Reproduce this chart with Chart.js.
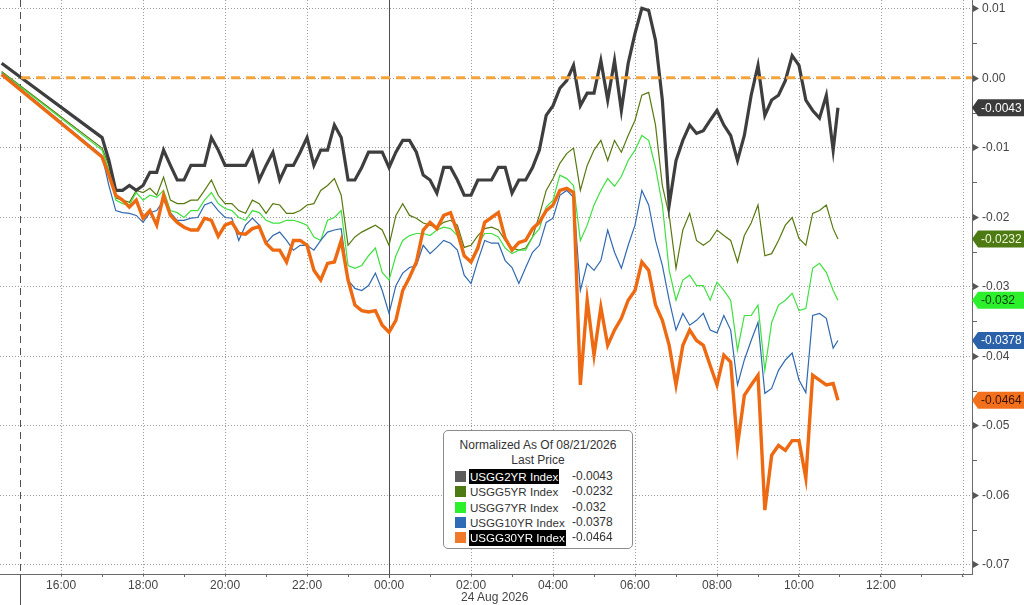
<!DOCTYPE html>
<html><head><meta charset="utf-8">
<script src="https://cdn.jsdelivr.net/npm/chart.js@4.4.1/dist/chart.umd.min.js"></script>
<style>
html,body{margin:0;padding:0;background:#fff;overflow:hidden}
#wrap{position:relative;width:1024px;height:605px;font-family:"Liberation Sans",Arial,sans-serif}
#c{position:absolute;left:0;top:0}
#legend{position:absolute;left:443px;top:430px;width:190px;height:119px;box-sizing:border-box;border:1px solid #8c8c8c;border-radius:5px;background:#fff;padding-top:7px;font-size:12px;color:#333;line-height:15.4px}
#legend .ttl{text-align:center}
#legend .row{position:relative;height:15.4px}
#legend .sq{position:absolute;left:11px;top:2px;width:11px;height:11px}
#legend .nm{position:absolute;left:26px;top:0;font-size:11.6px}
#legend .nm.hl{background:#000;color:#fff;padding:0 1px;margin-left:-1px}
#legend .val{position:absolute;left:128px;top:0}
#datelbl{position:absolute;left:461px;top:590px;font-size:12px;color:#444}
</style></head>
<body>
<div id="wrap">
<canvas id="c" width="1024" height="605"></canvas>
<div id="legend">
  <div class="ttl">Normalized As Of 08/21/2026</div>
  <div class="ttl">Last Price</div>
  <div id="rows"></div>
</div>
<div id="datelbl">24 Aug 2026</div>
</div>
<script>
// ---------------- DATA ----------------
const names = ['USGG2YR Index','USGG5YR Index','USGG7YR Index','USGG10YR Index','USGG30YR Index'];
const lastPrice = ['-0.0043','-0.0232','-0.032','-0.0378','-0.0464'];

const times = ["14:33",
"17:00","17:10","17:20","17:30","17:40","17:50",
"18:00","18:10","18:20","18:30","18:40","18:50",
"19:00","19:10","19:20","19:30","19:40","19:50",
"20:00","20:10","20:20","20:30","20:40","20:50",
"21:00","21:10","21:20","21:30","21:40","21:50",
"22:00","22:10","22:20","22:30","22:40","22:50",
"23:00","23:10","23:20","23:30","23:40","23:50",
"00:00","00:10","00:20","00:30","00:40","00:50",
"01:00","01:10","01:20","01:30","01:40","01:50",
"02:00","02:10","02:20","02:30","02:40","02:50",
"03:00","03:10","03:20","03:30","03:40","03:50",
"04:00","04:10","04:20","04:30","04:40","04:50",
"05:00","05:10","05:20","05:30","05:40","05:50",
"06:00","06:10","06:20","06:30","06:40","06:50",
"07:00","07:10","07:20","07:30","07:40","07:50",
"08:00","08:10","08:20","08:30","08:40","08:50",
"09:00","09:10","09:20","09:30","09:40","09:50",
"10:00","10:10","10:20","10:30","10:40","10:50",
"10:57"];

const usgg2 = [0.0021,
-0.0086,-0.0119,-0.0162,-0.0162,-0.0155,-0.0162,-0.0155,-0.0136,-0.0136,-0.0104,
-0.0126,-0.0147,-0.0147,-0.0126,-0.0126,-0.0126,-0.0086,-0.0104,-0.0126,-0.0126,
-0.0126,-0.0126,-0.0107,-0.0147,-0.0126,-0.0107,-0.0147,-0.0126,-0.0126,-0.0107,
-0.0086,-0.0126,-0.0104,-0.0104,-0.0068,-0.0086,-0.0147,-0.0147,-0.0129,-0.0107,
-0.0107,-0.0107,-0.0129,-0.0107,-0.0090,-0.0090,-0.0107,-0.0140,-0.0147,-0.0166,
-0.0129,-0.0129,-0.0147,-0.0169,-0.0169,-0.0147,-0.0147,-0.0147,-0.0129,-0.0129,
-0.0166,-0.0147,-0.0147,-0.0129,-0.0104,-0.0054,-0.0040,-0.0015,-0.0004,0.0018,
-0.0040,-0.0022,-0.0022,0.0025,-0.0032,0.0025,-0.0047,0.0021,0.0064,0.0100,
0.0097,0.0054,-0.0032,-0.0183,-0.0119,-0.0090,-0.0068,-0.0080,-0.0076,-0.0061,
-0.0047,-0.0068,-0.0083,-0.0119,-0.0083,-0.0025,0.0018,-0.0054,-0.0032,-0.0025,
-0.0004,0.0032,0.0018,-0.0032,-0.0047,-0.0058,-0.0025,-0.0104,-0.0043];

const usgg5 = [0.0009,
-0.0101,-0.0126,-0.0173,-0.0176,-0.0179,-0.0162,-0.0165,-0.0159,-0.0169,-0.0143,
-0.0176,-0.0181,-0.0181,-0.0176,-0.0176,-0.0162,-0.0147,-0.0169,-0.0181,-0.0181,
-0.0191,-0.0195,-0.0176,-0.0181,-0.0195,-0.0181,-0.0183,-0.0195,-0.0195,-0.0191,
-0.0183,-0.0181,-0.0162,-0.0155,-0.0145,-0.0169,-0.0241,-0.0229,-0.0222,-0.0217,
-0.0212,-0.0219,-0.0241,-0.0198,-0.0181,-0.0198,-0.0202,-0.0209,-0.0212,-0.0215,
-0.0208,-0.0205,-0.0212,-0.0244,-0.0241,-0.0227,-0.0217,-0.0215,-0.0219,-0.0234,
-0.0245,-0.0248,-0.0245,-0.0229,-0.0198,-0.0162,-0.0145,-0.0123,-0.0109,-0.0101,
-0.0162,-0.0126,-0.0104,-0.0090,-0.0119,-0.0090,-0.0107,-0.0083,-0.0061,-0.0025,
-0.0021,-0.0068,-0.0155,-0.0198,-0.0274,-0.0219,-0.0195,-0.0234,-0.0241,-0.0234,
-0.0219,-0.0227,-0.0234,-0.0265,-0.0227,-0.0209,-0.0183,-0.0256,-0.0253,-0.0234,
-0.0212,-0.0201,-0.0231,-0.0241,-0.0195,-0.0191,-0.0183,-0.0217,-0.0232];

const usgg7 = [0.0008,
-0.0104,-0.0133,-0.0176,-0.0181,-0.0183,-0.0165,-0.0176,-0.0169,-0.0172,-0.0162,
-0.0191,-0.0194,-0.0201,-0.0191,-0.0191,-0.0176,-0.0165,-0.0181,-0.0188,-0.0191,
-0.0201,-0.0205,-0.0191,-0.0194,-0.0205,-0.0209,-0.0209,-0.0205,-0.0205,-0.0208,
-0.0212,-0.0229,-0.0234,-0.0205,-0.0201,-0.0191,-0.0270,-0.0274,-0.0270,-0.0256,
-0.0245,-0.0280,-0.0291,-0.0256,-0.0234,-0.0227,-0.0224,-0.0224,-0.0227,-0.0219,
-0.0215,-0.0217,-0.0227,-0.0256,-0.0263,-0.0241,-0.0224,-0.0224,-0.0229,-0.0245,
-0.0253,-0.0248,-0.0248,-0.0229,-0.0217,-0.0186,-0.0176,-0.0140,-0.0145,-0.0155,
-0.0234,-0.0212,-0.0183,-0.0162,-0.0145,-0.0156,-0.0142,-0.0119,-0.0104,-0.0083,
-0.0090,-0.0129,-0.0183,-0.0277,-0.0320,-0.0291,-0.0284,-0.0299,-0.0299,-0.0320,
-0.0294,-0.0306,-0.0320,-0.0392,-0.0342,-0.0342,-0.0327,-0.0421,-0.0352,-0.0327,
-0.0320,-0.0310,-0.0335,-0.0332,-0.0274,-0.0267,-0.0280,-0.0306,-0.0320];

const usgg10 = [0.0007,
-0.0112,-0.0155,-0.0191,-0.0194,-0.0195,-0.0198,-0.0208,-0.0194,-0.0191,-0.0176,
-0.0194,-0.0205,-0.0205,-0.0202,-0.0201,-0.0183,-0.0179,-0.0191,-0.0201,-0.0202,
-0.0234,-0.0212,-0.0202,-0.0212,-0.0238,-0.0227,-0.0222,-0.0234,-0.0248,-0.0241,
-0.0241,-0.0248,-0.0234,-0.0222,-0.0219,-0.0217,-0.0291,-0.0303,-0.0306,-0.0299,
-0.0281,-0.0306,-0.0339,-0.0299,-0.0281,-0.0273,-0.0270,-0.0241,-0.0253,-0.0244,
-0.0234,-0.0238,-0.0248,-0.0284,-0.0296,-0.0263,-0.0234,-0.0238,-0.0238,-0.0263,
-0.0273,-0.0296,-0.0273,-0.0251,-0.0241,-0.0208,-0.0202,-0.0169,-0.0162,-0.0172,
-0.0306,-0.0267,-0.0277,-0.0263,-0.0219,-0.0251,-0.0274,-0.0241,-0.0212,-0.0162,
-0.0183,-0.0234,-0.0270,-0.0320,-0.0363,-0.0339,-0.0356,-0.0349,-0.0339,-0.0363,
-0.0367,-0.0342,-0.0363,-0.0442,-0.0406,-0.0378,-0.0352,-0.0454,-0.0447,-0.0421,
-0.0406,-0.0396,-0.0435,-0.0453,-0.0342,-0.0339,-0.0346,-0.0389,-0.0378];

const usgg30 = [0.0005,
-0.0114,-0.0140,-0.0169,-0.0176,-0.0186,-0.0176,-0.0202,-0.0191,-0.0212,-0.0169,
-0.0198,-0.0208,-0.0215,-0.0219,-0.0219,-0.0202,-0.0205,-0.0228,-0.0212,-0.0208,
-0.0224,-0.0225,-0.0217,-0.0214,-0.0238,-0.0248,-0.0248,-0.0265,-0.0234,-0.0234,
-0.0241,-0.0277,-0.0291,-0.0267,-0.0265,-0.0234,-0.0291,-0.0327,-0.0335,-0.0337,
-0.0335,-0.0356,-0.0366,-0.0349,-0.0306,-0.0287,-0.0265,-0.0219,-0.0208,-0.0217,
-0.0198,-0.0194,-0.0222,-0.0256,-0.0265,-0.0245,-0.0208,-0.0201,-0.0194,-0.0231,
-0.0248,-0.0237,-0.0234,-0.0217,-0.0208,-0.0191,-0.0183,-0.0162,-0.0159,-0.0165,
-0.0442,-0.0320,-0.0399,-0.0330,-0.0385,-0.0363,-0.0346,-0.0320,-0.0306,-0.0265,
-0.0277,-0.0327,-0.0349,-0.0385,-0.0442,-0.0385,-0.0363,-0.0378,-0.0385,-0.0414,
-0.0442,-0.0399,-0.0409,-0.0529,-0.0457,-0.0442,-0.0428,-0.0622,-0.0543,-0.0529,
-0.0536,-0.0522,-0.0522,-0.0576,-0.0428,-0.0435,-0.0442,-0.0440,-0.0464];

const yTickValues = [0.01,0.00,-0.01,-0.02,-0.03,-0.04,-0.05,-0.06,-0.07];
const xLabelHours = [-8,-6,-4,-2,0,2,4,6,8,10,12];   // 16:00 .. 12:00
const gridHours = [-8,-6,-4,-2,2,4,6,8,10,12,14];
const dayBreak = 0;        // 00:00 24 Aug
const sessionBreak = -9;   // 15:00
const referenceLevel = 0;  // normalized base

// ---------------- STYLE ----------------
const styles = [
 {color:'#3e3e3e', width:3.2, order:1, tag:'#3b3b3b', tagText:'#ffffff', sq:'#5c5c5c', hl:true},
 {color:'#58790f', width:1.2, order:4, tag:'#4d7a12', tagText:'#eef6dc', sq:'#4d7a12', hl:false},
 {color:'#3fe03f', width:1.2, order:3, tag:'#2cf02c', tagText:'#0c3a0c', sq:'#2cf02c', hl:false},
 {color:'#3069b0', width:1.2, order:2, tag:'#2a61a8', tagText:'#ffffff', sq:'#2e6cb5', hl:false},
 {color:'#ee6a12', width:3.4, order:0, tag:'#f2701c', tagText:'#3a1400', sq:'#f07a2a', hl:true}
];
const FONT = '"Liberation Sans", Arial, sans-serif';
Chart.defaults.font.family = FONT;
Chart.defaults.font.size = 12;

function toHour(s){ const p=s.split(':').map(Number); let v=p[0]+p[1]/60; if(p[0]>=14) v-=24; return v; }
const seriesValues = [usgg2, usgg5, usgg7, usgg10, usgg30];

const datasets = seriesValues.map((arr,i)=>({
  label: names[i],
  data: times.map((t,k)=>({x:toHour(t), y:arr[k]})),
  borderColor: styles[i].color,
  borderWidth: styles[i].width,
  order: styles[i].order,
  pointRadius:0, tension:0, fill:false,
  borderJoinStyle:'miter', borderCapStyle:'butt'
}));

// legend rows
const rows = document.getElementById('rows');
names.forEach((n,i)=>{
  const r=document.createElement('div'); r.className='row';
  r.innerHTML='<span class="sq" style="background:'+styles[i].sq+'"></span><span class="nm'+(styles[i].hl?' hl':'')+'">'+n+'</span><span class="val">'+lastPrice[i]+'</span>';
  rows.appendChild(r);
});

function fmtY(v){ if(Math.abs(v)<1e-9) return '0.00'; return v.toFixed(2); }

const bbg = {
  id:'bbg',
  beforeDatasetsDraw(chart){
    const {ctx, chartArea:a, scales:{x,y}} = chart;
    const ln=(x1,y1,x2,y2)=>{ctx.beginPath();ctx.moveTo(x1,y1);ctx.lineTo(x2,y2);ctx.stroke();};
    ctx.save();
    ctx.lineWidth=1; ctx.strokeStyle='#9c9c9c'; ctx.setLineDash([1,2]);
    yTickValues.forEach(v=>{ const py=Math.round(y.getPixelForValue(v))+0.5; ln(a.left,py,a.right,py); });
    gridHours.forEach(h=>{ const px=Math.round(x.getPixelForValue(h))+0.5; ln(px,a.top,px,a.bottom+4); });
    ctx.setLineDash([]); ctx.strokeStyle='#505050';
    let px=Math.round(x.getPixelForValue(dayBreak))+0.5; ln(px,a.top,px,a.bottom+4);
    px=Math.round(x.getPixelForValue(sessionBreak))+0.5;
    ctx.setLineDash([7,5]); ln(px,a.top,px,a.bottom);
    ctx.setLineDash([]); ln(px,a.bottom,px,chart.height);
    ctx.restore();
  },
  afterDatasetsDraw(chart){
    const {ctx, chartArea:a, scales:{x,y}} = chart;
    ctx.save();
    ctx.strokeStyle='#f3a53c'; ctx.lineWidth=3; ctx.setLineDash([9,6]);
    const py=y.getPixelForValue(referenceLevel);
    ctx.beginPath(); ctx.moveTo(x.getPixelForValue(sessionBreak)+1,py); ctx.lineTo(a.right,py); ctx.stroke();
    ctx.restore();
  },
  afterDraw(chart){
    const {ctx, chartArea:a, scales:{y}} = chart;
    ctx.save();
    ctx.fillStyle='#555'; ctx.strokeStyle='#666'; ctx.lineWidth=1;
    ctx.font='12px '+FONT; ctx.textBaseline='middle'; ctx.textAlign='left';
    yTickValues.forEach((v,k)=>{
      const py=Math.round(y.getPixelForValue(v));
      ctx.fillStyle='#555';
      ctx.beginPath(); ctx.moveTo(a.right+1,py-3); ctx.lineTo(a.right+7,py+0.5); ctx.lineTo(a.right+1,py+4); ctx.closePath(); ctx.fill();
      ctx.fillStyle='#444';
      ctx.fillText(fmtY(v), a.right+10, py+1);
      if(k<yTickValues.length-1){
        const pm=Math.round(y.getPixelForValue((v+yTickValues[k+1])/2))+0.5;
        ctx.beginPath(); ctx.moveTo(a.right,pm); ctx.lineTo(a.right+5,pm); ctx.stroke();
      }
    });
    seriesValues.forEach((arr,i)=>{
      const v=arr[arr.length-1]; const py=y.getPixelForValue(v); const h=17;
      ctx.fillStyle=styles[i].tag;
      ctx.beginPath(); ctx.moveTo(a.right,py); ctx.lineTo(a.right+6,py-h/2); ctx.lineTo(chart.width,py-h/2);
      ctx.lineTo(chart.width,py+h/2); ctx.lineTo(a.right+6,py+h/2); ctx.closePath(); ctx.fill();
      ctx.fillStyle=styles[i].tagText;
      ctx.fillText(lastPrice[i], a.right+9, py+0.5);
    });
    ctx.restore();
  }
};

const chart = new Chart(document.getElementById('c'), {
  type:'line',
  data:{datasets},
  plugins:[bbg],
  options:{
    responsive:false, animation:false, devicePixelRatio:1,
    layout:{padding:{top:0,left:0,right:0,bottom:0}, autoPadding:false},
    plugins:{legend:{display:false}, tooltip:{enabled:false}, title:{display:false}},
    scales:{
      x:{type:'linear', min:-9.49, max:14.22,
        afterFit(s){ s.height=31; s.paddingLeft=0; s.paddingRight=0; },
        grid:{display:true, drawOnChartArea:false, drawTicks:true, tickLength:3, tickColor:'#666'},
        border:{display:true, color:'#6a6a6a', width:1},
        ticks:{stepSize:1, autoSkip:false, maxRotation:0, includeBounds:false, padding:1, color:'#444',
          callback(v){ const r=Math.round(v); if(!xLabelHours.includes(r)) return ''; const hh=((r%24)+24)%24; return String(hh).padStart(2,'0')+':00'; }}
      },
      y:{position:'right', min:-0.0714, max:0.0112,
        afterFit(s){ s.width=52; s.paddingTop=0; s.paddingBottom=0; },
        grid:{display:false, drawTicks:false},
        border:{display:true, color:'#6a6a6a', width:1},
        ticks:{display:false, stepSize:0.01, includeBounds:false}
      }
    }
  }
});
// make the plot area start at the very top of the canvas, as in the reference
if (chart.chartArea.top > 0.5) {
  chart.options.layout.padding.top = -chart.chartArea.top;
  chart.update('none');
}
</script>
</body></html>
